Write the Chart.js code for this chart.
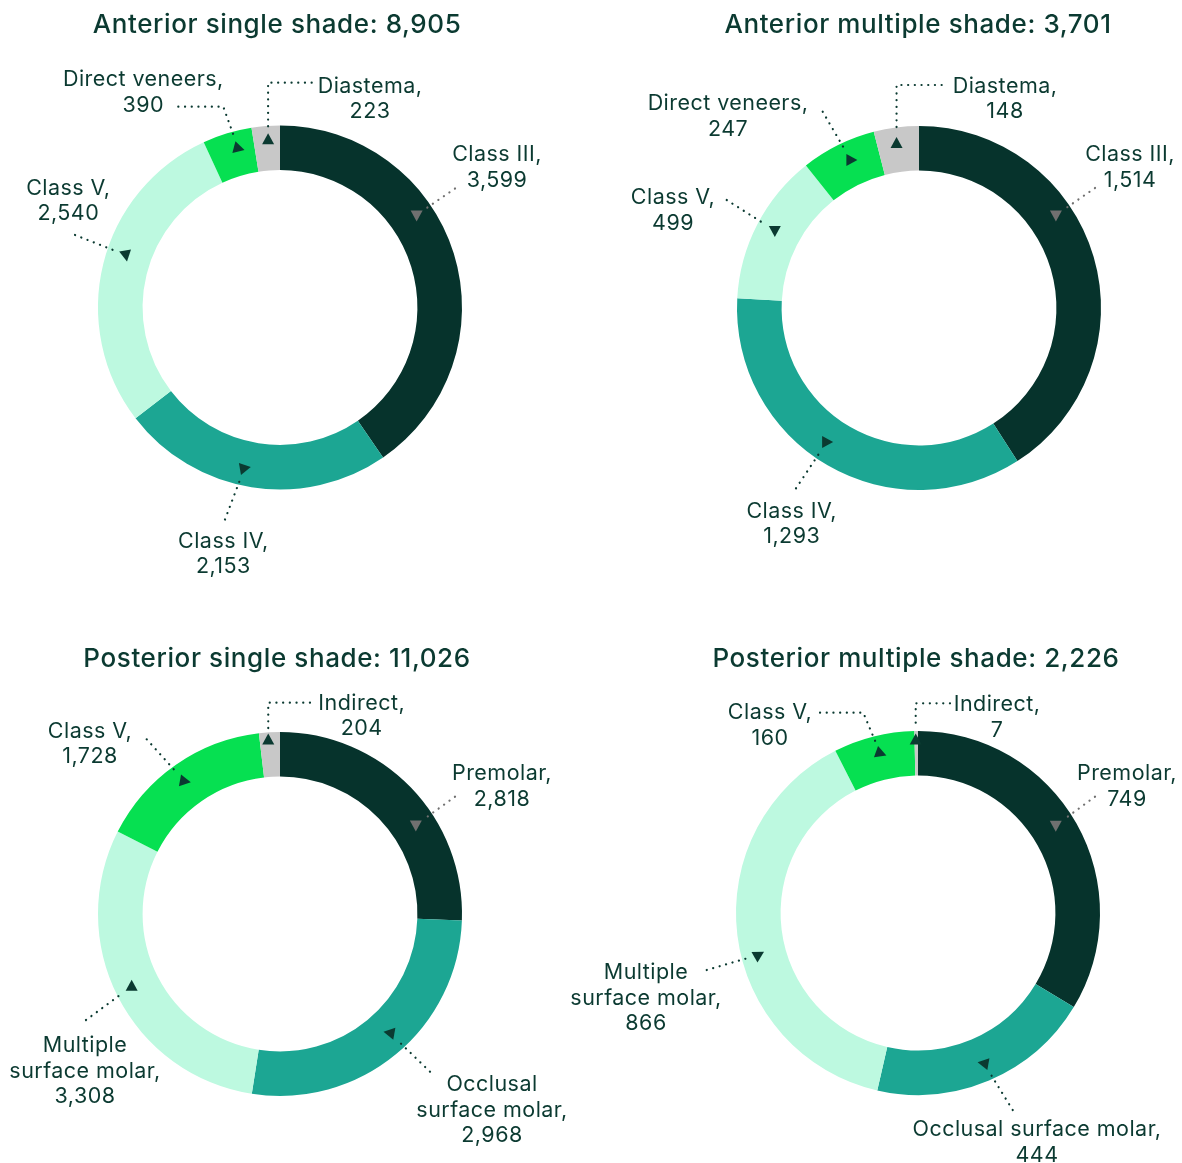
<!DOCTYPE html>
<html lang="en">
<head>
<meta charset="UTF-8">
<title>Composite restorations by shade</title>
<script src="https://cdn.jsdelivr.net/npm/chart.js"></script>
<style>
  body { margin: 0; background: #fff; }
  #page { position: relative; width: 1182px; height: 1163px; overflow: hidden; }
  #page canvas { position: absolute; }
</style>
</head>
<body>
<div id="page">
  <canvas id="antSingle"></canvas>
  <canvas id="antMultiple"></canvas>
  <canvas id="postSingle"></canvas>
  <canvas id="postMultiple"></canvas>
</div>
<script>
// Restoration types and counts, listed clockwise from 12 o'clock
const anteriorLabels = ['Class III', 'Class IV', 'Class V', 'Direct veneers', 'Diastema'];
const anteriorSingle = [3599, 2153, 2540, 390, 223];
const anteriorMultiple = [1514, 1293, 499, 247, 148];

const posteriorLabels = ['Premolar', 'Occlusal surface molar', 'Multiple surface molar', 'Class V', 'Indirect'];
const posteriorSingle = [2818, 2968, 3308, 1728, 204];
const posteriorMultiple = [749, 444, 866, 160, 7];

const segmentColors = ['#06332c', '#1ca693', '#bdf9e0', '#06e051', '#c8c8c8'];
const inkColor = '#0b3a31';
const mutedColor = '#707070';
const RING = 182;

// Draws the panel title plus a dotted leader, arrowhead and label for every slice
const calloutPlugin = {
  id: 'callouts',
  afterDatasetsDraw(chart, args, opts) {
    const ctx = chart.ctx;
    const meta = chart.getDatasetMeta(0);
    const cx = meta.data[0].x;
    const cy = meta.data[0].y;
    const names = chart.data.labels;
    const values = chart.data.datasets[0].data;
    const total = values.reduce((a, b) => a + b, 0);

    ctx.save();
    ctx.textAlign = 'center';
    ctx.textBaseline = 'middle';
    ctx.fillStyle = inkColor;
    ctx.font = '500 26px Inter';
    ctx.letterSpacing = '0.6px';
    ctx.fillText(opts.title + ': ' + total.toLocaleString('en-US'), cx + opts.titleAt[0], cy + opts.titleAt[1]);

    opts.callouts.forEach((c, i) => {
      const arc = meta.data[i];
      const a = arc.startAngle + c.along * (arc.endAngle - arc.startAngle);
      const r = arc.innerRadius + c.depth * (arc.outerRadius - arc.innerRadius);
      const tx = cx + r * Math.cos(a);
      const ty = cy + r * Math.sin(a);
      const colour = c.muted ? mutedColor : inkColor;

      // leader: label side points, optional right-angle elbow, then towards the arrow
      const pts = c.path.map(p => [cx + p[0], cy + p[1]]);
      if (c.elbow) pts.push([tx, pts[pts.length - 1][1]]);
      const last = pts[pts.length - 1];
      const dx = tx - last[0], dy = ty - last[1];
      const len = Math.hypot(dx, dy);
      const stop = Math.max(len - 11, 0) / len;
      pts.push([last[0] + dx * stop, last[1] + dy * stop]);

      ctx.save();
      ctx.strokeStyle = colour;
      ctx.lineWidth = 2.2;
      ctx.lineCap = 'round';
      ctx.setLineDash([0.1, 6.6]);
      ctx.beginPath();
      pts.forEach((p, k) => k ? ctx.lineTo(p[0], p[1]) : ctx.moveTo(p[0], p[1]));
      ctx.stroke();
      ctx.restore();

      // arrowhead
      ctx.save();
      ctx.translate(tx, ty);
      ctx.rotate(c.turn * Math.PI / 180);
      ctx.fillStyle = colour;
      ctx.beginPath();
      ctx.moveTo(0, -6.5);
      ctx.lineTo(6, 4.5);
      ctx.lineTo(-6, 4.5);
      ctx.closePath();
      ctx.fill();
      ctx.restore();

      // label text
      const words = names[i].split(' ');
      const lines = [];
      if (c.wrap) {
        let k = 0;
        c.wrap.forEach(n => { lines.push(words.slice(k, k + n).join(' ')); k += n; });
      } else {
        lines.push(words.join(' '));
      }
      lines[lines.length - 1] += ',';
      lines.push(values[i].toLocaleString('en-US'));
      ctx.font = '21.5px Inter';
      ctx.letterSpacing = '0.45px';
      ctx.fillStyle = inkColor;
      lines.forEach((t, k) => ctx.fillText(t, cx + c.text[0], cy + c.text[1] + k * 25.3));
    });
    ctx.restore();
  }
};

function drawPanel(id, box, centre, labels, values, title, titleAt, callouts) {
  const canvas = document.getElementById(id);
  canvas.width = box[2];
  canvas.height = box[3];
  canvas.style.left = box[0] + 'px';
  canvas.style.top = box[1] + 'px';
  const lx = centre[0] - box[0];
  const ly = centre[1] - box[1];
  new Chart(canvas, {
    type: 'doughnut',
    data: {
      labels: labels,
      datasets: [{
        data: values,
        backgroundColor: segmentColors,
        borderWidth: 0,
        hoverOffset: 0
      }]
    },
    options: {
      responsive: false,
      animation: false,
      events: [],
      cutout: '75.5%',
      layout: {
        padding: {
          left: lx - RING,
          right: box[2] - lx - RING,
          top: ly - RING,
          bottom: box[3] - ly - RING
        }
      },
      plugins: {
        legend: { display: false },
        tooltip: { enabled: false },
        callouts: { title: title, titleAt: titleAt, callouts: callouts }
      }
    },
    plugins: [calloutPlugin]
  });
}

drawPanel('antSingle', [0, 0, 591, 590], [280, 307.5], anteriorLabels, anteriorSingle,
  'Anterior single shade', [-3, -282.5], [
    { along: 0.384, depth: 0.62, turn: 180, muted: true, path: [[175, -119]], text: [217, -152.5] },
    { along: 0.54, depth: 0.61, turn: 80, path: [[-55, 212]], text: [-56.7, 234.2] },
    { along: 0.548, depth: 0.57, turn: 170, path: [[-205, -72.5]], text: [-211.7, -119.2] },
    { along: 0.64, depth: 0.61, turn: 105, path: [[-101.7, -200.8], [-56.7, -200.8]], text: [-136.7, -227.5] },
    { along: 0.55, depth: 0.69, turn: 0, elbow: true, path: [[31.7, -224.8]], text: [90, -220.8] }
  ]);

drawPanel('antMultiple', [591, 0, 591, 590], [919, 308], anteriorLabels, anteriorMultiple,
  'Anterior multiple shade', [-1, -283], [
    { along: 0.379, depth: 0.63, turn: 180, muted: true, path: [[176, -120]], text: [211, -153] },
    { along: 0.535, depth: 0.57, turn: 90, path: [[-123, 180.3]], text: [-127.3, 203.7] },
    { along: 0.52, depth: 0.59, turn: 180, path: [[-192.3, -108]], text: [-246, -110] },
    { along: 0.57, depth: 0.57, turn: 90, path: [[-96.3, -196.3]], text: [-191, -204] },
    { along: 0.46, depth: 0.64, turn: 0, elbow: true, path: [[22.7, -223]], text: [86, -221.3] }
  ]);

drawPanel('postSingle', [0, 590, 570, 573], [280, 914], posteriorLabels, posteriorSingle,
  'Posterior single shade', [-3, -255], [
    { along: 0.617, depth: 0.56, turn: 180, muted: true, path: [[175, -117.3]], text: [222, -140] },
    { along: 0.467, depth: 0.55, turn: 280, path: [[150, 157.7]], text: [212, 171], wrap: [1, 2] },
    { along: 0.51, depth: 0.62, turn: 0, path: [[-194, 106]], text: [-195, 132], wrap: [1, 2] },
    { along: 0.485, depth: 0.59, turn: 100, path: [[-133.3, -174.7]], text: [-190, -182.3] },
    { along: 0.42, depth: 0.83, turn: 0, elbow: true, path: [[30, -211.3]], text: [81.7, -210.7] }
  ]);

drawPanel('postMultiple', [570, 590, 612, 573], [918, 913], posteriorLabels, posteriorMultiple,
  'Posterior multiple shade', [-2, -254], [
    { along: 0.475, depth: 0.58, turn: 180, muted: true, path: [[177, -116.3]], text: [209, -139] },
    { along: 0.49, depth: 0.6, turn: 280, path: [[94.7, 197]], text: [119, 217] },
    { along: 0.445, depth: 0.62, turn: 60, path: [[-211.3, 57]], text: [-272, 60], wrap: [1, 2] },
    { along: 0.53, depth: 0.6, turn: 110, path: [[-98, -200.3], [-54.7, -200.3]], text: [-148, -200] },
    { along: 0.33, depth: 0.8, turn: 0, elbow: true, path: [[32, -209.7]], text: [79, -208] }
  ]);
</script>
</body>
</html>
